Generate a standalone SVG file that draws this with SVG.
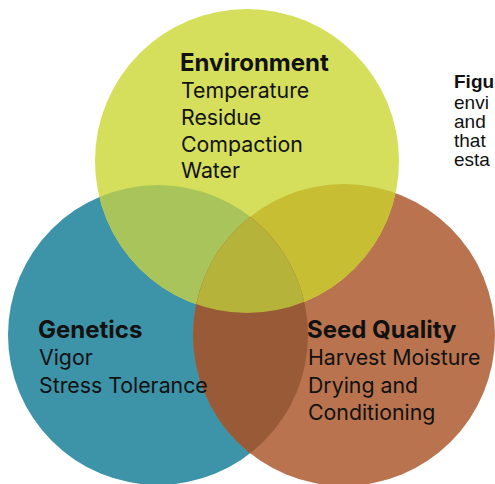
<svg xmlns="http://www.w3.org/2000/svg" width="495" height="484" viewBox="0 0 495 484">
<style>
.h{font-family:Inter,"Liberation Sans",sans-serif;font-weight:700;font-size:24px;fill:#111}
.t{font-family:Inter,"Liberation Sans",sans-serif;font-weight:400;font-size:21.3px;fill:#111}
.c{font-family:"Liberation Sans",Arial,sans-serif;font-size:19px;fill:#111}
.cb{font-weight:700}
</style>
<defs>
<clipPath id="cpB"><circle cx="158" cy="335" r="150"/></clipPath>
<clipPath id="cpO"><circle cx="344" cy="335" r="151"/></clipPath>
</defs>
<rect width="495" height="484" fill="#ffffff"/>
<g id="circles">
<circle cx="158" cy="335" r="150" fill="#3d93a8"/>
<circle cx="344" cy="335" r="151" fill="#b9744f"/>
<circle cx="247" cy="161" r="152" fill="#d5df5b"/>
<circle cx="247" cy="161" r="152" fill="#a9c45a" clip-path="url(#cpB)"/>
<circle cx="247" cy="161" r="152" fill="#c7be34" clip-path="url(#cpO)"/>
<circle cx="158" cy="335" r="150" fill="#995a37" clip-path="url(#cpO)"/>
<g clip-path="url(#cpB)"><circle cx="247" cy="161" r="152" fill="#b6b33a" clip-path="url(#cpO)"/></g>
</g>
<g id="environment">
<text class="h" x="180" y="71">Environment</text>
<text class="t" x="181" y="98">Temperature</text>
<text class="t" x="181" y="125">Residue</text>
<text class="t" x="181" y="152">Compaction</text>
<text class="t" x="181" y="178">Water</text>
</g>
<g id="genetics">
<text class="h" x="38" y="338">Genetics</text>
<text class="t" x="39" y="365">Vigor</text>
<text class="t" x="39" y="393">Stress Tolerance</text>
</g>
<g id="seed-quality">
<text class="h" x="307" y="338">Seed Quality</text>
<text class="t" x="308" y="365">Harvest Moisture</text>
<text class="t" x="308" y="393">Drying and</text>
<text class="t" x="308" y="420">Conditioning</text>
</g>
<g id="caption">
<text class="c cb" x="454" y="88">Figu</text>
<text class="c" x="454" y="109">envi</text>
<text class="c" x="454" y="128">and</text>
<text class="c" x="454" y="147">that</text>
<text class="c" x="454" y="166">esta</text>
</g>
</svg>
